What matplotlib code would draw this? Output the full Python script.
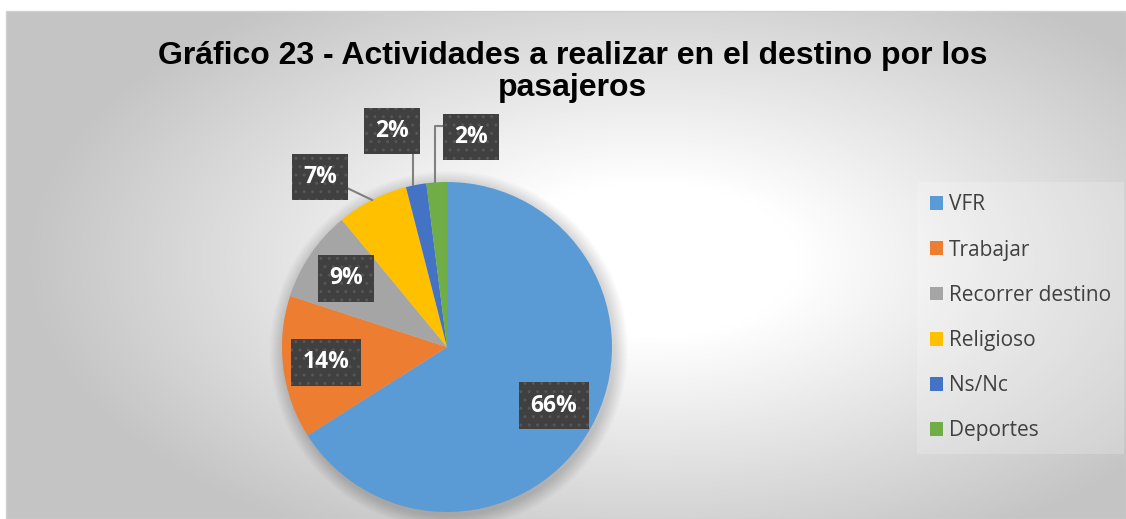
import numpy as np
import matplotlib
matplotlib.use("Agg")
import matplotlib.pyplot as plt
from matplotlib.patches import Circle, Rectangle

categories = ["VFR", "Trabajar", "Recorrer destino", "Religioso", "Ns/Nc", "Deportes"]
values = [66, 14, 9, 7, 2, 2]
colors = ["#5B9BD5", "#ED7D31", "#A5A5A5", "#FFC000", "#4472C4", "#70AD47"]
title = "Gráfico 23 - Actividades a realizar en el destino por los\npasajeros"

W, H = 1126, 519
CX, CY, R = 447, H - 347, 165

# outer labels placed by hand (pixel coords, y from top); None = inside the slice
outer_pos = [None, None, None, (320, 177), (392, 131), (471, 137)]

plt.rcParams["hatch.linewidth"] = 1.0

fig = plt.figure(figsize=(W / 100, H / 100), dpi=100)
ax = fig.add_axes([0, 0, 1, 1])

# radial gradient background for the chart area
x0, x1, y0, y1 = 6, W, 0, H - 11
xs = np.linspace(x0, x1, 400)
ys = np.linspace(y0, y1, 200)
gx, gy = np.meshgrid(xs, ys)
d = np.sqrt(((gx - 650) / 500) ** 2 + ((gy - (H - 260)) / 260) ** 2)
v = 1 - 0.23 * np.clip((d - 0.3) / 0.95, 0, 1)
img = np.dstack([v, v, v])
ax.imshow(img, extent=[x0, x1, y0, y1], origin="lower", aspect="auto", zorder=0)
ax.add_patch(Rectangle((x0, y0), x1 - x0, y1 - y0, fill=False, edgecolor="#d0d0d0", lw=1, zorder=1))

# soft shadow around the pie
for i in range(14):
    ax.add_patch(Circle((CX + 2, CY - 3), R + 14 - i, color="#000000", alpha=0.012, lw=0, zorder=2))

wedges, _ = ax.pie(values, colors=colors, startangle=90, counterclock=False,
                   center=(CX, CY), radius=R, frame=True,
                   wedgeprops=dict(linewidth=0, zorder=3))
ax.set_xlim(0, W)
ax.set_ylim(0, H)
ax.set_aspect("equal")
ax.axis("off")

box = dict(boxstyle="square,pad=0.5", facecolor="#404040", edgecolor="#565656",
           hatch="..", linewidth=0)
total = sum(values)
cum = 0
for i, val in enumerate(values):
    mid = 90 - (cum + val / 2) / total * 360
    cum += val
    a = np.deg2rad(mid)
    label = f"{val}%"
    if outer_pos[i] is None:
        tx, ty = CX + 0.74 * R * np.cos(a), CY + 0.74 * R * np.sin(a)
    else:
        tx, ty = outer_pos[i][0], H - outer_pos[i][1]
        ex, ey = CX + R * np.cos(a), CY + R * np.sin(a)
        if i == 3:
            ax.plot([345, ex], [H - 187, ey], color="#808080", lw=1.5, zorder=4)
        elif i == 4:
            ax.plot([ex - 3, ex - 3], [H - 152, ey], color="#808080", lw=1.5, zorder=4)
        else:
            ax.plot([446, ex - 2, ex - 2], [H - 126, H - 126, ey], color="#808080", lw=1.5, zorder=4)
    ax.text(tx, ty, label, ha="center", va="center", color="white", fontsize=16.5,
            fontweight="bold", family="Open Sans", bbox=box, zorder=5)

ax.text(573, H - 72, title, ha="center", va="center", fontsize=23, fontweight="bold",
        family="Liberation Sans", linespacing=1.12, zorder=5)

leg = ax.legend(wedges, categories, loc="upper left", bbox_to_anchor=(917 / W, (H - 182) / H),
                bbox_transform=fig.transFigure, frameon=True, fancybox=False,
                framealpha=0.2, facecolor="white", edgecolor="none",
                prop=dict(family="Open Sans", size=15), labelspacing=1.16,
                handlelength=0.65, handleheight=0.65, handletextpad=0.3,
                borderpad=0.6, borderaxespad=0)
for t in leg.get_texts():
    t.set_color("#404040")

fig.savefig("out.png", dpi=100, facecolor="white")
